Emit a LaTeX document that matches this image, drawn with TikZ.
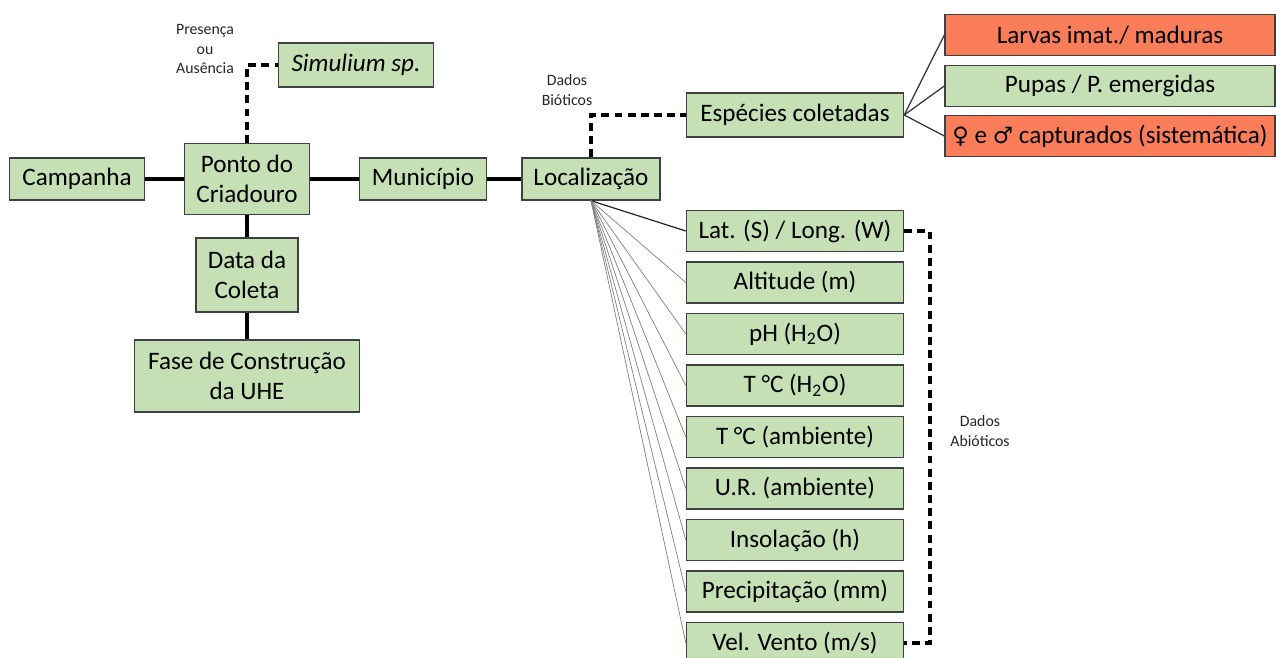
\documentclass[tikz,border=0pt]{standalone}
\usepackage{fontspec}
\setmainfont{Carlito}
\newfontfamily\symfont[Scale=0.9]{DejaVu Sans}
\usepackage{tikz}
\usetikzlibrary{positioning}
\definecolor{boxgreen}{RGB}{197,224,180}
\definecolor{boxorange}{RGB}{250,125,90}
\definecolor{boxline}{RGB}{64,64,64}
\tikzset{
  box/.style={draw=boxline,fill=boxgreen,line width=0.8pt,minimum height=0.84cm,inner sep=1pt,align=center,font=\fontsize{14.3}{17}\selectfont},
  hotbox/.style={box,fill=boxorange},
  link/.style={line width=1.8pt},
  dlink/.style={line width=1.8pt,dash pattern=on 4.5pt off 3pt},
  tag/.style={font=\fontsize{9}{11.3}\selectfont,align=center,text=black!85}
}

\begin{document}
\begin{tikzpicture}[x=0.02cm,y=-0.02cm]
		\useasboundingbox (0,0) rectangle (1276,657);
		% main chain
		\node[box,minimum width=2.7cm] (camp) at (77,179) {Campanha};
		\node[box,minimum width=2.5cm,minimum height=1.42cm] (ponto) at (247,179) {Ponto do\\Criadouro};
		\node[box,minimum width=2.54cm] (mun) at (423,179) {Município};
		\node[box,minimum width=2.76cm] (loc) at (591,179) {Localização};
		\node[box,minimum width=2.04cm,minimum height=1.48cm] (data) at (247,275) {Data da\\Coleta};
		\node[box,minimum width=4.5cm,minimum height=1.44cm] (fase) at (247,376) {Fase de Construção\\da UHE};
		\draw[link] (camp) -- (ponto);
		\draw[link] (ponto) -- (mun);
		\draw[link] (mun) -- (loc);
		\draw[link] (ponto) -- (data);
		\draw[link] (data) -- (fase);
		% presence
		\node[box,minimum width=3.1cm,minimum height=0.88cm] (sim) at (356,65) {\itshape Simulium sp.};
		\draw[dlink] (ponto.north) |- (sim.west);
		\node[tag] (pres) at (205,49) {Presença\\ou\\Ausência};
		% biotic data
		\node[box,minimum width=4.34cm,minimum height=0.88cm] (esp) at (795,115) {Espécies coletadas};
		\draw[dlink] (loc.north) |- (esp.west);
		\node[tag] (biot) at (567,90) {Dados\\Bióticos};
		\node[hotbox,minimum width=6.6cm,minimum height=0.82cm] (larv) at (1110,35) {Larvas imat./ maduras};
		\node[box,minimum width=6.6cm,minimum height=0.82cm] (pupa) at (1110,86) {Pupas / P. emergidas};
		\node[hotbox,minimum width=6.6cm,minimum height=0.82cm] (sexo) at (1110,136) {{\symfont ♀} e {\symfont ♂} capturados (sistemática)};
		\foreach \t in {larv,pupa,sexo}
			\draw[line width=0.7pt,black!80] (esp.east) -- (\t.west);
		% abiotic data
		\foreach \i/\txt in {1/{Lat. (S) / Long. (W)},2/{Altitude (m)},3/{pH (H\textsubscript{2}O)},4/{T °C (H\textsubscript{2}O)},5/{T °C (ambiente)},6/{U.R. (ambiente)},7/{Insolação (h)},8/{Precipitação (mm)},9/{Vel. Vento (m/s)}}
			\node[box,minimum width=4.34cm,minimum height=0.82cm] (ab\i) at (795,{231+51.5*(\i-1)}) {\txt};
		\draw[line width=0.7pt,black!85] (loc.south) -- (ab1.west);
		\foreach \i in {2,...,9}
			\draw[line width=0.4pt,black!50] (loc.south) -- (ab\i.west);
		\coordinate (abtop) at (930,231);
		\draw[dlink] (ab1.east) -- (abtop) |- (ab9.east);
		\node[tag] (abiot) at (980,431) {Dados\\Abióticos};
	\end{tikzpicture}
\end{document}
